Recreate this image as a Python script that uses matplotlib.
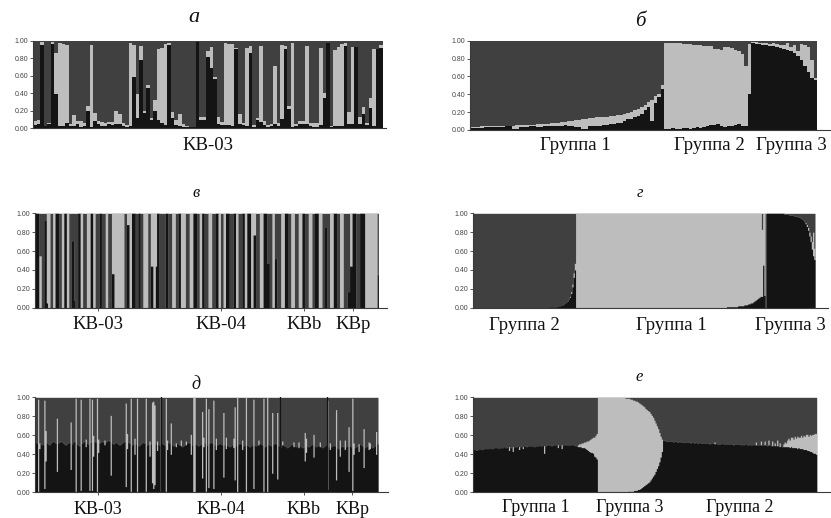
import numpy as np
import matplotlib.pyplot as plt

plt.rcParams['font.family'] = ['Liberation Serif', 'DejaVu Serif']

W, H = 831, 518

# cluster colours (STRUCTURE, K = 3)
BLACK = '#141414'
LIGHT = '#bdbdbd'
DARK = '#404040'

# ---------------- а : KB-03 (black %, light %, rest is dark) ----------------
a_black = [4, 5, 95, 3, 5, 96, 39, 3, 3, 6, 3, 3, 5, 2, 3, 20, 2, 8, 5, 3,
           3, 5, 4, 5, 5, 3, 2, 3, 59, 12, 78, 18, 46, 10, 20, 10, 6, 4, 95, 12,
           4, 3, 2, 2, 1, 1, 98, 10, 10, 81, 69, 56, 5, 4, 4, 4, 3, 90, 5, 4,
           3, 86, 2, 10, 7, 4, 2, 3, 5, 3, 11, 90, 22, 2, 3, 5, 5, 5, 3, 2,
           1, 4, 35, 97, 2, 3, 3, 3, 94, 5, 5, 93, 5, 16, 4, 23, 3, 91, 92]
a_light = [4, 5, 3, 0, 1, 2, 47, 94, 93, 89, 2, 12, 3, 6, 3, 6, 93, 10, 3, 4,
           3, 2, 3, 15, 11, 3, 2, 94, 36, 27, 16, 2, 4, 2, 12, 80, 86, 92, 2, 7,
           6, 13, 3, 1, 1, 0, 0, 3, 3, 7, 24, 2, 8, 3, 93, 92, 93, 2, 11, 2,
           89, 8, 2, 2, 87, 4, 2, 2, 66, 3, 84, 4, 4, 95, 2, 3, 3, 89, 3, 4,
           5, 88, 5, 0, 1, 86, 90, 93, 3, 14, 88, 0, 8, 8, 2, 12, 87, 0, 3]

# ---------------- б : KB-03 sorted by groups ----------------
b_g1_black = [2, 2, 2, 2, 3, 3, 3, 3, 3, 3, 4, 4, 1, 1, 3, 3, 3, 4, 4, 3,
              3, 4, 4, 5, 5, 5, 5, 6, 5, 5, 3, 3, 1, 1, 4, 4, 5, 5, 6, 6,
              7, 7, 8, 8, 10, 12, 12, 14, 16, 18, 22, 26, 10, 30, 37, 46]
b_g1_light = [1, 1, 1, 2, 1, 1, 1, 2, 2, 2, 1, 1, 4, 5, 3, 3, 3, 2, 2, 4,
              4, 3, 3, 3, 3, 3, 4, 3, 5, 5, 8, 8, 11, 11, 9, 9, 9, 9, 9, 9,
              9, 9, 9, 9, 8, 7, 8, 8, 8, 8, 6, 5, 24, 8, 3, 4]
b_g2_black = [1, 1, 2, 1, 1, 2, 2, 1, 2, 3, 2, 3, 5, 6, 6, 7, 4, 3, 5, 5,
              6, 7, 4, 5, 40]
b_g2_light = [96, 96, 95, 96, 96, 94, 94, 95, 93, 92, 93, 91, 89, 88, 85, 84,
              86, 90, 88, 87, 84, 81, 81, 67, 56]
b_g3_black = [97, 96, 96, 95, 95, 94, 94, 93, 92, 91, 90, 88, 86, 83, 78, 72,
              65, 58, 56]
b_g3_light = [1, 2, 1, 2, 2, 2, 3, 3, 3, 4, 7, 5, 9, 5, 18, 23, 28, 20, 2]

# ---------------- в : four populations, K = 3 ----------------
# k = black, d = dark, l = light, capitals = admixed individuals
v_codes = {'k': (100, 0), 'd': (0, 0), 'l': (0, 100),
           'A': (0, 55), 'B': (93, 0), 'C': (71, 0), 'D': (36, 64),
           'E': (88, 12), 'F': (44, 56), 'G': (5, 95), 'H': (8, 0),
           'M': (77, 23), 'N': (47, 0), 'O': (52, 0), 'P': (85, 0),
           'Q': (17, 0), 'R': (44, 56), 'S': (35, 0)}
v_kb03 = ("kkkAAddBBGllddllkkkddllkkllddCCHddkkllddd" "lllkkllddd" "kkdddll"
          "dHdDD" "llllllll" "dd" "EEllkkkddkkddlllldd" "FFllFkkdd")
v_kb04 = ("dddkkdddlllddkkllllddd" "lllkkkddllkkddd"
          "lllddd" "kkll" "ddll" "kkkddd" "kkll" "dddkk" "ll" "kkkll" "MMddd"
          "lllkkk" "NNddll" "OOddd")
v_kbb = "lllkkkdd" "lllddd" "lllkk" "ddd" "llldd" "kkklll" "ddPP"
v_kbp = "ddlllkkk" "ddlllddd" "QQRR" "kkkddd" "kkkk" "llllllllll" "S"

# ---------------- г : all individuals sorted by groups ----------------
g_g2_pure = 59          # fully dark
g_g2_tail_black = [1, 1, 1, 1, 1, 1, 1, 1, 2, 2, 2, 3, 3, 4, 5, 6, 7, 9, 11,
                   15, 22, 32, 40]
g_g2_tail_light = [0, 0, 0, 0, 0, 0, 0, 0, 0, 0, 0, 0, 0, 0, 0, 0, 0, 0, 1,
                   2, 3, 5, 7]
g_g1_pure = 121         # fully light
g_g1_tail_black = [1, 1, 1, 1, 1, 1, 1, 1, 1, 2, 2, 2, 2, 2, 3, 3, 3, 4, 4,
                   5, 5, 6, 7, 8, 9, 10, 11, 12, 12, 45, 13, 0]
g_g1_tail_light = [99, 99, 99, 99, 99, 99, 99, 99, 99, 98, 98, 98, 98, 98, 97,
                   97, 97, 96, 96, 95, 95, 94, 93, 92, 91, 90, 89, 88, 71, 55,
                   87, 0]
g_g3_pure = 14          # fully black
g_g3_tail_black = [99, 99, 99, 99, 98, 98, 98, 98, 97, 97, 97, 96, 96, 95, 94,
                   93, 91, 89, 86, 82, 76, 70, 62, 55, 51]
g_g3_tail_light = [0, 0, 0, 0, 0, 0, 0, 0, 0, 0, 0, 0, 0, 0, 0, 0, 0, 1, 2, 3,
                   4, 6, 8, 25, 12]

# ---------------- д : four populations, black baseline + light spikes ----------------
d_kb03_black = [53, 52, 53, 51, 52, 50, 51, 52, 53, 52, 51, 50, 52, 53, 54, 53, 52, 51, 52, 53,
                54, 53, 52, 51, 50, 51, 52, 53, 52, 51, 53, 54, 52, 51, 50, 49, 51, 52, 53, 54,
                53, 52, 51, 52, 53, 54, 55, 54, 53, 52, 51, 52, 53, 54, 53, 52, 53, 54, 55, 54,
                53, 52, 51, 52, 53, 52, 51, 50, 51, 52, 53, 54, 55, 54, 53, 52, 51, 50, 51, 52,
                51, 50, 49, 50, 51, 52, 53, 52, 51, 50, 51, 52, 51, 50, 49, 50, 51, 52, 51, 50, 52]
d_kb03_spikes = {2: (1, 97), 3: (46, 6), 7: (4, 93), 8: (33, 32), 17: (22, 56),
                 28: (24, 50), 32: (1, 98), 36: (2, 96), 40: (48, 8), 43: (2, 97),
                 45: (2, 96), 46: (38, 22), 49: (1, 98), 50: (42, 14), 55: (50, 5),
                 60: (18, 63), 72: (6, 88), 73: (46, 16), 76: (1, 98), 79: (40, 17),
                 81: (1, 98), 88: (1, 98), 91: (38, 16), 93: (10, 85), 94: (4, 92),
                 95: (8, 84), 97: (44, 10), 100: (1, 98)}
d_kb04_black = [52, 51, 50, 51, 52, 53, 52, 51, 50, 49, 50, 51, 52, 51, 50, 49, 48, 49, 50, 51,
                52, 53, 52, 51, 50, 51, 52, 51, 50, 49, 50, 51, 52, 53, 52, 51, 50, 51, 52, 53,
                52, 51, 50, 49, 50, 51, 52, 51, 50, 49, 50, 51, 50, 49, 48, 49, 50, 51, 50, 49,
                50, 51, 52, 51, 50, 49, 50, 51, 50, 49, 48, 49, 50, 51, 50, 49, 50, 51, 52, 51,
                50, 49, 48, 49, 50, 51, 50, 49, 50, 51, 52, 51, 50, 49, 50]
d_kb04_spikes = {3: (1, 98), 4: (45, 10), 7: (40, 33), 11: (48, 4), 15: (49, 6),
                 19: (50, 4), 23: (40, 21), 25: (0, 100), 26: (0, 100), 32: (15, 70),
                 33: (48, 10), 35: (1, 98), 37: (5, 83), 41: (4, 93), 43: (45, 12),
                 49: (16, 68), 51: (46, 12), 57: (47, 10), 58: (13, 77), 60: (0, 100),
                 64: (45, 10), 67: (0, 100), 73: (4, 94), 77: (50, 5), 81: (1, 98),
                 84: (0, 100), 88: (20, 64), 92: (14, 70)}
d_kbb_black = [48, 49, 50, 49, 48, 47, 48, 49, 50, 51, 50, 49, 48, 49, 50, 49, 48, 47, 48, 49,
               50, 49, 48, 49, 50, 51, 50, 49, 48, 49, 50, 49, 48, 47, 48, 49, 50]
d_kbb_spikes = {1: (50, 4), 10: (48, 5), 14: (47, 6), 19: (33, 30), 20: (42, 15),
                26: (37, 24), 31: (48, 5)}
d_kbp_black = [49, 48, 47, 48, 49, 50, 49, 48, 47, 46, 47, 48, 49, 48, 47, 48, 49, 50, 49, 48,
               47, 46, 47, 48, 49, 50, 51, 50, 49, 48, 47, 48, 49, 50, 49, 48, 47, 48, 49, 50, 51]
d_kbp_spikes = {0: (3, 94), 2: (45, 7), 7: (13, 74), 10: (38, 17), 14: (45, 10),
                17: (22, 47), 20: (2, 97), 21: (40, 12), 25: (43, 8), 29: (26, 41),
                33: (45, 8), 34: (46, 6), 39: (40, 24)}

# ---------------- е : all individuals sorted by groups ----------------
e_g1_black = [45, 45, 44, 45, 45, 46, 45, 45, 46, 46, 46, 46, 46, 47, 46, 46, 47, 47, 47, 47,
              46, 47, 47, 47, 48, 47, 47, 48, 44, 47, 48, 43, 48, 48, 48, 49, 45, 48, 49, 46,
              49, 49, 48, 49, 49, 49, 49, 49, 48, 49, 49, 49, 50, 49, 49, 50, 41, 49, 50, 50,
              50, 50, 49, 50, 50, 50, 51, 47, 50, 50, 46, 50, 50, 51, 50, 50, 50, 50, 51, 50,
              50, 49, 49, 48, 48, 48, 47, 47, 47, 46, 45, 44, 43, 42, 42, 41, 38, 37, 35]
e_g1_light = [0, 0, 0, 0, 0, 0, 0, 0, 0, 0, 0, 0, 0, 0, 0, 0, 0, 0, 0, 0,
              0, 0, 0, 0, 0, 0, 0, 0, 4, 0, 0, 5, 0, 0, 0, 0, 3, 0, 0, 2,
              0, 0, 0, 0, 0, 0, 0, 0, 0, 0, 0, 0, 0, 0, 0, 0, 8, 0, 0, 0,
              0, 0, 0, 0, 0, 0, 0, 3, 0, 0, 4, 0, 0, 0, 0, 0, 0, 0, 0, 0,
              0, 0, 0, 2, 3, 3, 5, 5, 6, 7, 9, 10, 12, 14, 15, 17, 20, 23, 27]
e_g3_pure = 19          # fully light
e_g3_tail_black = [0, 0, 0, 0, 0, 1, 1, 1, 1, 1, 2, 2, 2, 3, 3, 4, 5, 6, 7, 8,
                   9, 10, 11, 13, 15, 17, 19, 22, 25, 28, 32, 37, 43]
e_g3_tail_light = [100, 100, 100, 99, 99, 98, 98, 97, 97, 96, 95, 94, 94, 92, 91,
                   89, 87, 85, 83, 80, 78, 76, 74, 70, 66, 62, 57, 51, 45, 39,
                   31, 22, 13]
e_g2_black = [55, 55, 54, 54, 54, 54, 54, 54, 53, 54, 54, 53, 53, 54, 53, 53, 53, 53, 53, 53,
              53, 53, 52, 53, 53, 52, 53, 52, 52, 53, 52, 52, 52, 52, 52, 52, 52, 51, 52, 52,
              52, 51, 52, 51, 51, 51, 51, 52, 51, 51, 51, 51, 51, 51, 51, 51, 50, 51, 51, 51,
              51, 51, 50, 51, 50, 51, 51, 50, 50, 51, 50, 50, 51, 50, 50, 50, 50, 50, 50, 50,
              50, 50, 50, 49, 50, 50, 49, 49, 50, 49, 49, 49, 49, 48, 49, 48, 48, 48, 48, 48,
              48, 47, 48, 47, 47, 47, 47, 46, 47, 46, 46, 46, 45, 45, 45, 44, 44, 43, 43, 42,
              41, 41, 40]
e_g2_light = [0, 0, 0, 0, 0, 0, 0, 0, 0, 0, 0, 0, 0, 0, 0, 0, 0, 0, 0, 0,
              0, 0, 0, 0, 0, 0, 0, 0, 0, 0, 0, 0, 0, 0, 0, 0, 0, 0, 0, 0,
              0, 2, 0, 0, 0, 0, 0, 0, 0, 0, 0, 0, 0, 0, 0, 0, 0, 0, 0, 0,
              0, 0, 0, 0, 0, 0, 0, 0, 0, 0, 0, 0, 0, 0, 3, 0, 0, 0, 4, 0,
              0, 4, 0, 0, 5, 0, 0, 5, 0, 3, 0, 6, 0, 4, 0, 0, 3, 5, 4, 7,
              9, 8, 10, 11, 9, 12, 10, 13, 11, 12, 14, 12, 15, 14, 16, 17, 15, 18, 17, 19,
              20, 21, 22]

pops = ['KB-03', 'KB-04', 'KBb', 'KBp']


def from_codes(*strings):
    black, light, sizes = [], [], []
    for s in strings:
        for c in s:
            black.append(v_codes[c][0])
            light.append(v_codes[c][1])
        sizes.append(len(s))
    return black, light, sizes


def with_spikes(*pairs):
    black, light, sizes = [], [], []
    for base, spikes in pairs:
        bk = list(base)
        lt = [0] * len(base)
        for i, (k, l) in spikes.items():
            bk[i], lt[i] = k, l
        black += bk
        light += lt
        sizes.append(len(base))
    return black, light, sizes


def sorted_groups(*groups):
    black, light, sizes = [], [], []
    for pure, pure_val, tb, tl in groups:
        black += [pure_val[0]] * pure + list(tb)
        light += [pure_val[1]] * pure + list(tl)
        sizes.append(pure + len(tb))
    return black, light, sizes


def panel(x0, x_data, x_axis, y_top, y_bot, black, light, sizes, labels,
          label_pos=None, tick_len=0, pad=5, seps=False, label_size=13.5):
    ax = fig.add_axes([x0 / W, 1 - y_bot / H, (x_axis - x0) / W, (y_bot - y_top) / H])
    kb = np.asarray(black, float) / 100
    top = kb + np.asarray(light, float) / 100
    n = len(kb)
    edges = np.arange(n + 1) - 0.5
    kb = np.append(kb, kb[-1])
    top = np.append(top, top[-1])
    ax.fill_between(edges, 0, 1, step='post', color=DARK, lw=0)
    ax.fill_between(edges, 0, top, step='post', color=LIGHT, lw=0)
    ax.fill_between(edges, 0, kb, step='post', color=BLACK, lw=0)
    bounds = np.cumsum(sizes)
    if seps:
        for b in bounds[:-1]:
            ax.axvline(b - 0.5, color=BLACK, lw=0.9)
    ax.set_xlim(-0.5, -0.5 + n * (x_axis - x0) / (x_data - x0))
    ax.set_ylim(0, 1)
    for s in ('top', 'right'):
        ax.spines[s].set_visible(False)
    for s in ('left', 'bottom'):
        ax.spines[s].set_color('#3a3a3a')
        ax.spines[s].set_linewidth(0.8)
    ax.set_yticks([0, 0.2, 0.4, 0.6, 0.8, 1.0])
    ax.set_yticklabels(['0.00', '0.20', '0.40', '0.60', '0.80', '1.00'],
                       family='Liberation Sans', fontsize=5, color='#444444')
    ax.tick_params(axis='y', length=2, width=0.6, pad=1.5, color='#3a3a3a')
    if label_pos is None:
        label_pos = bounds - np.asarray(sizes) / 2 - 0.5
    ax.set_xticks(label_pos)
    ax.set_xticklabels(labels, fontsize=label_size, color='#111111')
    ax.tick_params(axis='x', length=tick_len, width=0.6, pad=pad, color='#3a3a3a')
    return ax


fig = plt.figure(figsize=(W / 100, H / 100), dpi=100)

# а
panel(33.3, 382.7, 386, 40.7, 128.3, a_black, a_light, [len(a_black)],
      ['KB-03'], pad=6)

# б
bk, lt, sz = (b_g1_black + b_g2_black + b_g3_black,
              b_g1_light + b_g2_light + b_g3_light,
              [len(b_g1_black), len(b_g2_black), len(b_g3_black)])
panel(470, 817, 831, 40.7, 130, bk, lt, sz,
      ['Группа 1', 'Группа 2', 'Группа 3'], label_pos=[30, 68.5, 92], pad=5)

# в
bk, lt, sz = from_codes(v_kb03, v_kb04, v_kbb, v_kbp)
panel(35, 378.4, 387, 213.3, 307.7, bk, lt, sz, pops, tick_len=2.5, pad=3.5)

# г
bk, lt, sz = sorted_groups((g_g2_pure, (0, 0), g_g2_tail_black, g_g2_tail_light),
                           (g_g1_pure, (0, 100), g_g1_tail_black, g_g1_tail_light),
                           (g_g3_pure, (100, 0), g_g3_tail_black, g_g3_tail_light))
panel(473.3, 815, 828, 213.3, 307.7, bk, lt, sz,
      ['Группа 2', 'Группа 1', 'Группа 3'], pad=6.5)

# д
bk, lt, sz = with_spikes((d_kb03_black, d_kb03_spikes), (d_kb04_black, d_kb04_spikes),
                         (d_kbb_black, d_kbb_spikes), (d_kbp_black, d_kbp_spikes))
panel(35, 378, 388, 397.3, 492.3, bk, lt, sz, pops, tick_len=2.5, pad=3.8,
      seps=True, label_size=13)

# е
bk, lt, sz = sorted_groups((0, (0, 0), e_g1_black, e_g1_light),
                           (e_g3_pure, (0, 100), e_g3_tail_black, e_g3_tail_light),
                           (0, (0, 0), e_g2_black, e_g2_light))
panel(473.3, 816.7, 830, 397.3, 492.3, bk, lt, sz,
      ['Группа 1', 'Группа 3', 'Группа 2'], pad=4.5, label_size=13)

# panel letters
for x, y, t, fs in [(194, 21.5, 'а', 16), (640, 26.5, 'б', 15),
                    (196, 197, 'в', 12), (640, 197, 'г', 12),
                    (196, 389, 'д', 13), (639, 381, 'е', 12)]:
    fig.text(x / W, 1 - y / H, t, fontsize=fs, style='italic', ha='center',
             va='baseline', color='#111111')

fig.savefig('out.png', dpi=100)
